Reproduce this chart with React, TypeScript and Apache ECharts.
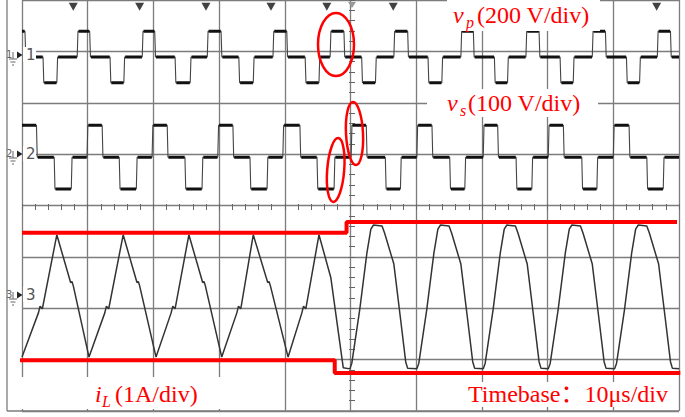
import React, { useEffect, useRef } from 'react';
import * as echarts from 'echarts';

// ---- Channel 1: primary voltage vp (edge times in µs, new level in V) ----
const vpT = [0, 0.45, 3.2, 5.3, 8.4, 10.3, 13.4, 15.5, 18.3, 20.2, 23.3, 25.6, 28.2, 30.3, 33.0, 35.2, 38.2, 40.3, 43.1, 45.2,
  46.9, 49.0, 51.7, 53.8, 56.6, 58.7, 61.8, 63.9, 66.8, 68.7, 71.9, 73.9, 76.7, 78.7, 81.9, 83.9, 86.8, 88.8, 92.0, 94.0, 96.7, 98.7];
const vpV = [100, 0, -100, 0, 100, 0, -100, 0, 100, 0, -100, 0, 100, 0, -100, 0, 100, 0, -100, 0,
  100, 0, -100, 0, 100, 0, -100, 0, 100, 0, -100, 0, 100, 0, -100, 0, 100, 0, -100, 0, 100, 0];

// ---- Channel 2: secondary voltage vs ----
const vsT = [0, 2.2, 4.9, 7.5, 9.9, 12.2, 14.8, 17.4, 19.8, 22.1, 24.8, 27.4, 29.8, 32.1, 34.7, 37.3, 39.7, 42.3, 44.9, 47.5,
  50.1, 52.4, 55.3, 57.6, 60.1, 62.4, 65.1, 67.4, 70.2, 72.4, 75.2, 77.6, 80.1, 82.4, 85.2, 87.5, 90.0, 92.4, 95.1, 97.6];
const vsV = [62, 0, -62, 0, 62, 0, -62, 0, 62, 0, -62, 0, 62, 0, -62, 0, 62, 0, -62, 0,
  62, 0, -62, 0, 62, 0, -62, 0, 62, 0, -62, 0, 62, 0, -62, 0, 62, 0, -62, 0];

// ---- Channel 3: inductor current iL (µs, A) ----
const iLT = [
  0, 2.5, 2.75, 3.1, 5.3, 7.4, 7.6, 7.8, 10.2,
  12.6, 12.85, 13.2, 15.4, 17.5, 17.7, 17.9, 20.4,
  22.7, 22.95, 23.3, 25.4, 27.5, 27.7, 27.9, 30.4,
  32.7, 32.95, 33.3, 35.2, 37.4, 37.6, 37.8, 40.5,
  42.6, 42.85, 43.2, 45.2, 47.0, 48.4, 48.9, 49.9,
  50.2, 51.4, 52.5, 53.1, 53.5, 54.8, 55.2, 56.6, 57.6, 58.4, 58.7, 60.1,
  60.4, 61.6, 62.7, 63.3, 63.7, 65.0, 65.4, 66.8, 67.8, 68.6, 68.9, 70.2,
  70.5, 71.7, 72.8, 73.4, 73.8, 75.1, 75.5, 76.9, 77.9, 78.7, 79.0, 80.1,
  80.4, 81.6, 82.7, 83.3, 83.7, 85.0, 85.4, 86.8, 87.8, 88.6, 88.9, 90.2,
  90.5, 91.7, 92.8, 93.4, 93.8, 95.1, 95.5, 96.9, 97.9, 98.7, 99.0, 100];
const iLA = [
  -1.21, -0.35, -0.22, -0.27, 1.17, 0.24, 0.26, 0.18, -1.21,
  -0.35, -0.22, -0.27, 1.17, 0.24, 0.26, 0.18, -1.21,
  -0.35, -0.22, -0.27, 1.17, 0.24, 0.26, 0.18, -1.21,
  -0.35, -0.22, -0.27, 1.17, 0.24, 0.26, 0.18, -1.21,
  -0.35, -0.22, -0.27, 1.17, 0.34, -0.96, -1.42, -1.44,
  -1.33, -0.29, 0.82, 1.28, 1.36, 1.34, 1.2, 0.6, -0.45, -1.3, -1.43, -1.44,
  -1.33, -0.29, 0.82, 1.28, 1.36, 1.34, 1.2, 0.6, -0.45, -1.3, -1.43, -1.44,
  -1.33, -0.29, 0.82, 1.28, 1.36, 1.34, 1.2, 0.6, -0.45, -1.3, -1.43, -1.44,
  -1.33, -0.29, 0.82, 1.28, 1.36, 1.34, 1.2, 0.6, -0.45, -1.3, -1.43, -1.44,
  -1.33, -0.29, 0.82, 1.28, 1.36, 1.34, 1.2, 0.6, -0.45, -1.3, -1.43, -1.44];

// ---- annotation envelope lines (µs, A on channel 3) ----
const redUpperT = [0, 49.4, 49.4, 99.7];
const redUpperA = [1.21, 1.21, 1.42, 1.42];
const redLowerT = [-0.9, 47.6, 47.6, 100.2];
const redLowerA = [-1.27, -1.27, -1.52, -1.52];

// ---- scope markers at the top (µs) ----
const trigMarks = [7.8, 17.9, 28.0, 37.9, 46.4, 56.5, 66.5, 76.5, 86.5, 96.6];

// channel reference (div) and scale (unit/div)
const VP_REF = 6.89, VP_SCALE = 200;
const VS_REF = 4.94, VS_SCALE = 100;
const IL_REF = 2.26, IL_SCALE = 1;

function stepLine(T: number[], V: number[], ref: number, scale: number) {
  const pts: any[] = [];
  for (let i = 0; i < T.length; i++) {
    const y = ref + V[i] / scale;
    if (i > 0) pts.push([T[i], ref + V[i - 1] / scale]);
    pts.push([T[i] + (i > 0 ? 0.12 : 0), y]);
  }
  pts.push([100, ref + V[V.length - 1] / scale]);
  return pts;
}
function plateaus(T: number[], V: number[], ref: number, scale: number) {
  const pts: any[] = [];
  for (let i = 0; i < T.length; i++) {
    const y = ref + V[i] / scale;
    const a = T[i] + (i > 0 ? 0.2 : 0);
    const b = i < T.length - 1 ? T[i + 1] - 0.05 : 100;
    pts.push([a, y], [b, y], [b, null]);
  }
  return pts;
}

const GREY = '#7c7c7c';
const RED = '#ff0000';
const SERIF = '"Liberation Serif", "Times New Roman", "Noto Sans CJK SC", serif';

function chanLabel(n: string, y0: number): any[] {
  return [
    { type: 'rect', z: 100, shape: { x: 23, y: y0 - 8, width: 13, height: 15 }, style: { fill: '#fff' } },
    { type: 'text', z: 101, style: { text: n, x: 6, y: y0 - 1, fill: '#666', font: '10px "DejaVu Sans"', textVerticalAlign: 'middle', verticalAlign: 'middle' } },
    { type: 'line', z: 101, shape: { x1: 13, y1: y0 - 3, x2: 13, y2: y0 + 4 }, style: { stroke: '#666', lineWidth: 1 } },
    { type: 'line', z: 101, shape: { x1: 9, y1: y0 + 4, x2: 17, y2: y0 + 4 }, style: { stroke: '#666', lineWidth: 1 } },
    { type: 'line', z: 101, shape: { x1: 10.5, y1: y0 + 7, x2: 15.5, y2: y0 + 7 }, style: { stroke: '#666', lineWidth: 1 } },
    { type: 'line', z: 101, shape: { x1: 12, y1: y0 + 10, x2: 14, y2: y0 + 10 }, style: { stroke: '#666', lineWidth: 1 } },
    { type: 'polygon', z: 101, shape: { points: [[17, y0 - 3.5], [22.5, y0], [17, y0 + 3.5]] }, style: { fill: '#222' } },
    { type: 'text', z: 101, style: { text: n, x: 26, y: y0, fill: '#555', font: '15px "DejaVu Sans"', textVerticalAlign: 'middle', verticalAlign: 'middle' } },
  ];
}

function txt(text: string, x: number, y: number, size: number, italic: boolean): any {
  return {
    type: 'text', z: 110,
    style: {
      text, x, y, fill: RED,
      font: `${italic ? 'italic ' : ''}${size}px ${SERIF}`,
      textVerticalAlign: 'middle', verticalAlign: 'middle', textAlign: 'left', align: 'left',
    },
  };
}

export default function App() {
  const ref = useRef<HTMLDivElement>(null);
  useEffect(() => {
    if (!ref.current) return;
    const chart = echarts.init(ref.current, undefined, { renderer: 'svg' });
    const tickAxisX = (inside: boolean) => ({
      type: 'value', min: 0, max: 100, interval: 2, position: 'bottom', offset: -204,
      axisLine: { show: false }, axisLabel: { show: false }, splitLine: { show: false },
      axisTick: { show: true, inside, length: 3, lineStyle: { color: '#666', width: 1 } },
    });
    const tickAxisY = (inside: boolean) => ({
      type: 'value', min: 0, max: 8, interval: 0.2, position: 'left', offset: -330,
      axisLine: { show: false }, axisLabel: { show: false }, splitLine: { show: false },
      axisTick: { show: true, inside, length: 3, lineStyle: { color: '#666', width: 1 } },
    });
    const option: any = {
      animation: false,
      backgroundColor: '#fff',
      grid: { left: 22, right: 6, top: 0, bottom: 6, containLabel: false },
      xAxis: [
        {
          type: 'value', min: 0, max: 100, interval: 10,
          axisLine: { show: false }, axisTick: { show: false }, axisLabel: { show: false },
          splitLine: { show: true, lineStyle: { color: GREY, width: 1.3 } },
        },
        tickAxisX(true), tickAxisX(false),
      ],
      yAxis: [
        {
          type: 'value', min: 0, max: 8, interval: 1,
          axisLine: { show: false }, axisTick: { show: false }, axisLabel: { show: false },
          splitLine: { show: true, lineStyle: { color: GREY, width: 1.3 } },
        },
        tickAxisY(true), tickAxisY(false),
      ],
      series: [
        { type: 'line', data: stepLine(vpT, vpV, VP_REF, VP_SCALE), showSymbol: false, lineStyle: { color: '#444', width: 1.1 }, z: 5 },
        { type: 'line', data: plateaus(vpT, vpV, VP_REF, VP_SCALE), showSymbol: false, connectNulls: false, lineStyle: { color: '#111', width: 3 }, z: 6 },
        { type: 'line', data: stepLine(vsT, vsV, VS_REF, VS_SCALE), showSymbol: false, lineStyle: { color: '#444', width: 1.1 }, z: 5 },
        { type: 'line', data: plateaus(vsT, vsV, VS_REF, VS_SCALE), showSymbol: false, connectNulls: false, lineStyle: { color: '#111', width: 3 }, z: 6 },
        { type: 'line', data: iLT.map((t, i) => [t, IL_REF + iLA[i] / IL_SCALE]), showSymbol: false, lineStyle: { color: '#333', width: 1.5 }, z: 5 },
        { type: 'line', clip: false, data: redUpperT.map((t, i) => [t, IL_REF + redUpperA[i] / IL_SCALE]), showSymbol: false, lineStyle: { color: RED, width: 4 }, z: 8 },
        { type: 'line', clip: false, data: redLowerT.map((t, i) => [t, IL_REF + redLowerA[i] / IL_SCALE]), showSymbol: false, lineStyle: { color: RED, width: 4 }, z: 8 },
        { type: 'scatter', data: trigMarks.map((t) => [t, 7.87]), symbol: 'triangle', symbolRotate: 180, symbolSize: [9, 8], itemStyle: { color: '#111' }, z: 7 },
      ],
      graphic: [
        // outer frame
        { type: 'line', z: 90, shape: { x1: 7, y1: 0, x2: 7, y2: 411 }, style: { stroke: GREY, lineWidth: 1.3 } },
        { type: 'line', z: 90, shape: { x1: 7, y1: 411, x2: 679, y2: 411 }, style: { stroke: GREY, lineWidth: 1.3 } },
        // trigger marker
        { type: 'polygon', z: 90, shape: { points: [[348, 2], [356, 2], [352, 8]] }, style: { fill: '#999' } },
        ...chanLabel('1', 55),
        ...chanLabel('2', 154),
        ...chanLabel('3', 295),
        // label backgrounds
        { type: 'rect', z: 100, shape: { x: 447, y: 0, width: 153, height: 31 }, style: { fill: '#fff' } },
        { type: 'rect', z: 100, shape: { x: 427, y: 89, width: 171, height: 28 }, style: { fill: '#fff' } },
        { type: 'rect', z: 100, shape: { x: 12, y: 377, width: 248, height: 32 }, style: { fill: '#fff' } },
        { type: 'rect', z: 100, shape: { x: 466, y: 382, width: 210, height: 25 }, style: { fill: '#fff' } },
        // red labels
        txt('v', 453, 15, 24, true), txt('p', 466, 22, 16, true), txt('(200 V/div)', 477, 15, 24, false),
        txt('v', 447, 103, 24, true), txt('s', 460, 110, 16, true), txt('(100 V/div)', 468, 103, 24, false),
        txt('i', 95, 394, 24, true), txt('L', 102, 401, 16, true), txt('(1A/div)', 115, 394, 24, false),
        txt('Timebase：10μs/div', 468, 394, 24, false),
        // red ellipses
        { type: 'ellipse', z: 110, x: 336, y: 44.5, shape: { cx: 0, cy: 0, rx: 18, ry: 31.5 }, style: { fill: 'transparent', stroke: RED, lineWidth: 2.5 } },
        { type: 'ellipse', z: 110, x: 354.5, y: 133.5, rotation: 0.05, shape: { cx: 0, cy: 0, rx: 8.5, ry: 31.5 }, style: { fill: 'transparent', stroke: RED, lineWidth: 2.5 } },
        { type: 'ellipse', z: 110, x: 335.7, y: 170, rotation: -0.08, shape: { cx: 0, cy: 0, rx: 8.5, ry: 32 }, style: { fill: 'transparent', stroke: RED, lineWidth: 2.5 } },
      ],
    };
    chart.setOption(option);
    return () => chart.dispose();
  }, []);
  return <div ref={ref} style={{ position: 'fixed', left: 0, top: 0, width: 685, height: 417 }} />;
}
